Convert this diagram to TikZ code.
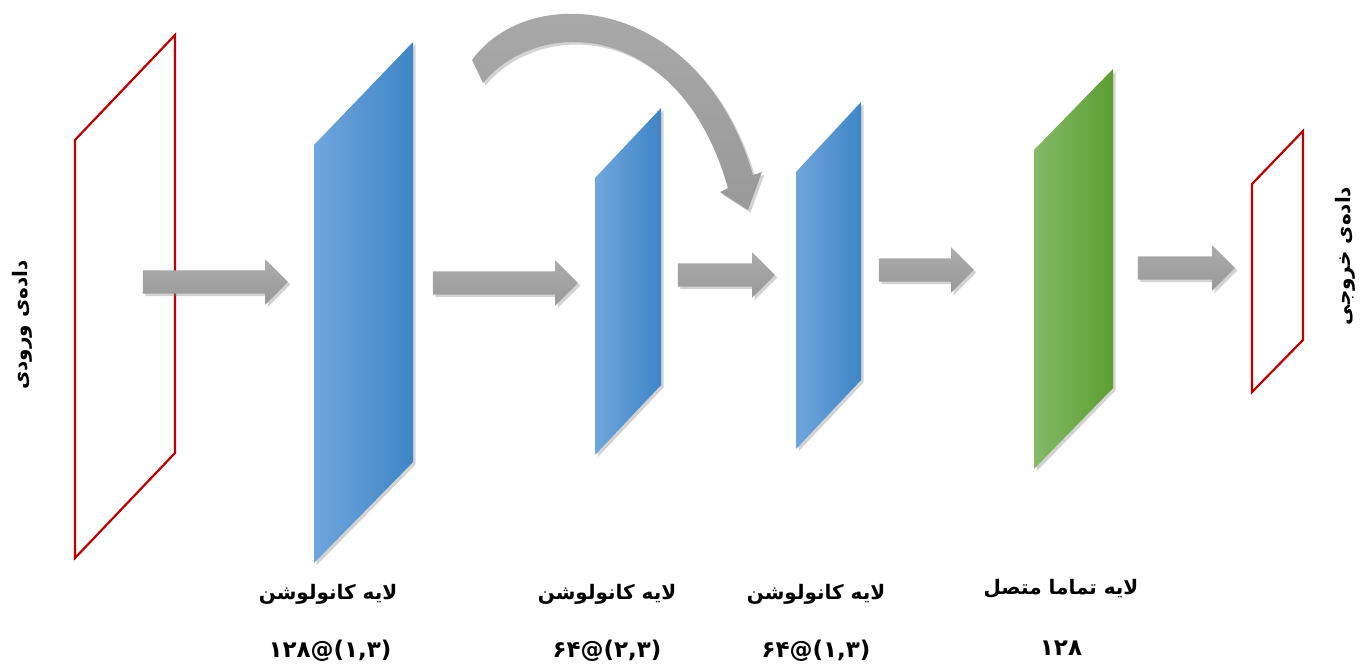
\documentclass[tikz,border=0pt]{standalone}
\usepackage{fontspec}
\usetikzlibrary{shapes.arrows,shadows}
\TeXXeTstate=1
\newfontfamily\fa[Script=Arabic]{DejaVu Sans}
\definecolor{redline}{HTML}{C00000}
\definecolor{blueL}{HTML}{70A6DD}
\definecolor{blueM}{HTML}{559BDB}
\definecolor{blueR}{HTML}{3E85C6}
\definecolor{greenL}{HTML}{84BA68}
\definecolor{greenM}{HTML}{70AE48}
\definecolor{greenR}{HTML}{5C9E31}
\definecolor{grayT}{HTML}{ABABAB}
\definecolor{grayB}{HTML}{999999}
\tikzset{
  frame/.style={draw=redline, line width=2.2pt, line join=miter},
  shade/.style={drop shadow={opacity=0.35, shadow xshift=2.5pt, shadow yshift=-2.5pt}},
  bluelayer/.style={shade, left color=blueL, middle color=blueM, right color=blueR},
  greenlayer/.style={shade, left color=greenL, middle color=greenM, right color=greenR},
  blockarrow/.style={single arrow, draw=none, top color=grayT, bottom color=grayB,
     inner sep=0pt, inner ysep=11.5pt, single arrow head extend=11pt,
     shade, anchor=center},
  lbl/.style={font=\fa\bfseries\fontsize{20}{24}\selectfont, inner sep=0pt},
  num/.style={font=\fa\bfseries\fontsize{23}{27}\selectfont, inner sep=0pt}
}
\begin{document}
\begin{tikzpicture}[x=1pt,y=-1pt]
\useasboundingbox (0,0) rectangle (1366,672);
% input frame
\draw[frame] (75,140) -- (175,35) -- (175,453) -- (75,558) -- cycle;
% conv layers
\path[bluelayer] (314,145) -- (413,42) -- (413,462) -- (314,563) -- cycle;
\path[bluelayer] (595,178) -- (661,108) -- (661,385) -- (595,455) -- cycle;
\path[bluelayer] (796,172) -- (861,102) -- (861,380) -- (796,449) -- cycle;
% fully connected
\path[greenlayer] (1034,150) -- (1113,69) -- (1113,388) -- (1034,469) -- cycle;
% output frame
\draw[frame] (1252,184) -- (1303,131) -- (1303,340) -- (1252,392) -- cycle;
% straight arrows
\node[blockarrow, minimum height=145pt] (a1) at (209.5,282) {};
\node[blockarrow, minimum height=145pt] (a2) at (499.5,283) {};
\node[blockarrow, minimum height=97pt] (a3) at (720.5,275) {};
\node[blockarrow, minimum height=95pt] (a4) at (920.5,270) {};
\node[blockarrow, minimum height=97pt] (a5) at (1180.5,268) {};
% curved skip arrow
\path[shade, top color=grayT, bottom color=grayB]
  (472,60) .. controls (530,-20) and (700,-5) .. (753,175)
  -- (762,172) -- (748,210) -- (720,192) -- (728,188)
  .. controls (680,20) and (540,15) .. (483,83) -- cycle;
% labels
\node[lbl] (l1a) at (328,594) {\beginR لایه کانولوشن\endR};
\node[num] (l1b) at (330,651) {(۱,۳)@۱۲۸};
\node[lbl] (l2a) at (607,594) {\beginR لایه کانولوشن\endR};
\node[num] (l2b) at (607,651) {(۲,۳)@۶۴};
\node[lbl] (l3a) at (816,594) {\beginR لایه کانولوشن\endR};
\node[num] (l3b) at (816,651) {(۱,۳)@۶۴};
\node[lbl] (l4a) at (1061,589) {\beginR لایه تماما متصل\endR};
\node[num] (l4b) at (1061,648) {۱۲۸};
\node[lbl, rotate=90] (lin) at (22,325) {\beginR داده‌ی ورودی\endR};
\node[lbl, rotate=90] (lout) at (1345,256) {\beginR داده‌ی خروجی\endR};
\end{tikzpicture}
\end{document}
